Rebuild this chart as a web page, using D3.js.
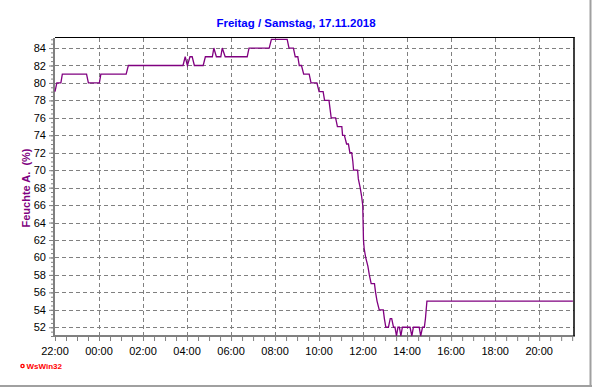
<!DOCTYPE html>
<html>
<head>
<meta charset="utf-8">
<script src="https://cdn.jsdelivr.net/npm/d3@7"></script>
<style>
  html, body { margin: 0; padding: 0; background: #fff; }
  svg { display: block; font-family: "Liberation Sans", Arial, sans-serif; }
</style>
</head>
<body>
<svg id="chart" width="592" height="387"></svg>
<script>
// --- Data: humidity readings, Friday 22:00 -> Saturday 21:35 ---
const times = [
  "22:00","22:05","22:16","22:20","23:26","23:31","00:01","00:05","01:14","01:20",
  "03:49","03:55","04:01","04:08","04:14","04:20","04:44","04:50","05:09","05:13",
  "05:20","05:32","05:36","05:44","06:44","06:49","07:44","07:50","08:33","08:38",
  "08:50","08:55","09:02","09:06","09:12","09:18","09:33","09:38","09:54","10:00",
  "10:11","10:15","10:27","10:30","10:33","10:45","10:50","11:02","11:04","11:09",
  "11:15","11:20","11:24","11:29","11:32","11:34","11:45","11:47","11:52","11:56",
  "11:59","12:01","12:03","12:07","12:13","12:17","12:22","12:31","12:34","12:38",
  "12:44","12:55","12:58","13:02","13:09","13:14","13:18","13:23","13:27","13:31",
  "13:35","13:39","13:43","13:47","14:08","14:13","14:17","14:33","14:37","14:42",
  "14:47","14:50","14:54","21:32"
];
const humidity = [
  79,80,80,81,81,80,80,81,81,82,
  82,83,82,83,83,82,82,83,83,84,
  83,83,84,83,83,84,84,85,85,84,
  84,83,83,82,82,81,81,80,80,79,
  79,78,78,77,76,76,75,75,74,74,
  73,73,72,72,71,70,70,69,68,67,
  66,62,61,60,59,58,57,57,56,55,
  54,54,53,52,52,53,53,52,52,51,
  52,52,51,52,52,51,52,52,51,52,
  52,53,55,55
];
const xTickLabels = ["22:00","00:00","02:00","04:00","06:00","08:00","10:00","12:00","14:00","16:00","18:00","20:00"];
const yTickValues = [52,54,56,58,60,62,64,66,68,70,72,74,76,78,80,82,84];
const titleText = "Freitag / Samstag, 17.11.2018";
const yLabelText = "Feuchte A.  (%)";

// times before 22:00 belong to the next day
function toDate(hhmm) {
  const [h, m] = hhmm.split(":").map(Number);
  return new Date(2018, 10, h >= 22 ? 16 : 17, h, m);
}
const data = times.map((t, i) => ({ date: toDate(t), value: humidity[i] }));

const W = 592, H = 387;
const plot = { left: 55, right: 574, top: 38, bottom: 336 };

const x = d3.scaleTime()
  .domain([new Date(2018, 10, 16, 22, 0), new Date(2018, 10, 17, 21, 35)])
  .range([plot.left, plot.right]);
const y = d3.scaleLinear()
  .domain([51, 85.15])
  .range([plot.bottom, plot.top]);

const svg = d3.select("#chart");
svg.append("rect").attr("width", W).attr("height", H).attr("fill", "#fff");

// outer frame (right + bottom)
svg.append("line").attr("x1", 590.5).attr("x2", 590.5).attr("y1", 0).attr("y2", 387)
  .attr("stroke", "#a0a0a0").attr("stroke-width", 2);
svg.append("line").attr("x1", 0).attr("x2", 592).attr("y1", 386).attr("y2", 386)
  .attr("stroke", "#a0a0a0").attr("stroke-width", 2);

// --- Grid ---
const xTicks = xTickLabels.map(toDate);
const grid = svg.append("g").attr("stroke", "#808080").attr("stroke-dasharray", "4,3").attr("stroke-width", 1);
grid.selectAll("line.v").data(xTicks.slice(1)).join("line")
  .attr("class", "v")
  .attr("x1", d => Math.round(x(d)) + 0.5).attr("x2", d => Math.round(x(d)) + 0.5)
  .attr("y1", plot.top).attr("y2", plot.bottom);
grid.selectAll("line.h").data(yTickValues).join("line")
  .attr("class", "h")
  .attr("x1", plot.left).attr("x2", plot.right)
  .attr("y1", d => Math.round(y(d)) + 0.5).attr("y2", d => Math.round(y(d)) + 0.5);

// --- Axes ---
const minorX = d3.timeMinute.every(30).range(x.domain()[0], x.domain()[1]);
const xAxis = d3.axisBottom(x).tickValues(minorX).tickSize(4).tickFormat("");
const gx = svg.append("g").attr("transform", `translate(0,${plot.bottom + 1})`).call(xAxis);
gx.select(".domain").remove();
gx.selectAll(".tick line").attr("stroke", "#808080");

const minorY = d3.range(51, 85.01, 0.5);
const gyMinor = svg.append("g").attr("transform", `translate(${plot.left - 2},0)`)
  .call(d3.axisLeft(y).tickValues(minorY).tickSize(2).tickFormat(""));
gyMinor.select(".domain").remove();
gyMinor.selectAll(".tick line").attr("stroke", "#808080");

const gy = svg.append("g").attr("transform", `translate(${plot.left - 2},0)`)
  .call(d3.axisLeft(y).tickValues(yTickValues).tickSize(4).tickPadding(3));
gy.select(".domain").remove();
gy.selectAll(".tick line").attr("stroke", "#808080");
gy.selectAll(".tick text").attr("font-size", 11).attr("fill", "#000")
  .attr("font-family", "'Liberation Sans', Arial, sans-serif");

svg.append("g").selectAll("text").data(xTicks).join("text")
  .attr("x", d => x(d)).attr("y", 355)
  .attr("text-anchor", "middle").attr("font-size", 11).attr("fill", "#000")
  .text((d, i) => xTickLabels[i]);

// plot frame: thick gray left/bottom, black top/right
svg.append("line").attr("x1", plot.left - 1).attr("x2", plot.left - 1)
  .attr("y1", plot.top).attr("y2", plot.bottom + 1)
  .attr("stroke", "#808080").attr("stroke-width", 2);
svg.append("line").attr("x1", plot.left - 2).attr("x2", plot.right + 1)
  .attr("y1", plot.bottom).attr("y2", plot.bottom)
  .attr("stroke", "#808080").attr("stroke-width", 2);
svg.append("line").attr("x1", plot.left).attr("x2", plot.right + 0.5)
  .attr("y1", plot.top - 0.5).attr("y2", plot.top - 0.5)
  .attr("stroke", "#000").attr("stroke-width", 1.2);
svg.append("line").attr("x1", plot.right).attr("x2", plot.right)
  .attr("y1", plot.top - 1).attr("y2", plot.bottom)
  .attr("stroke", "#000").attr("stroke-width", 1.5);

// --- Humidity line ---
const line = d3.line().x(d => x(d.date)).y(d => y(d.value));
svg.append("path").datum(data)
  .attr("d", line)
  .attr("fill", "none")
  .attr("stroke", "#800080")
  .attr("stroke-width", 1.3)
  .attr("stroke-linejoin", "miter");

// --- Texts ---
svg.append("text")
  .attr("x", 296).attr("y", 27)
  .attr("text-anchor", "middle")
  .attr("font-size", 11.5).attr("font-weight", "bold").attr("fill", "#0000ff")
  .text(titleText);

svg.append("text")
  .attr("transform", "translate(30,188) rotate(-90)")
  .attr("text-anchor", "middle")
  .attr("font-size", 11).attr("font-weight", "bold").attr("fill", "#800080")
  .style("white-space", "pre")
  .text(yLabelText);

svg.append("circle").attr("cx", 22.5).attr("cy", 366).attr("r", 1.6)
  .attr("fill", "#fff").attr("stroke", "#ff0000").attr("stroke-width", 1.4);
svg.append("text")
  .attr("x", 26.5).attr("y", 369)
  .attr("font-size", 8).attr("font-weight", "bold").attr("fill", "#ff0000")
  .text("WsWin32");
</script>
</body>
</html>
